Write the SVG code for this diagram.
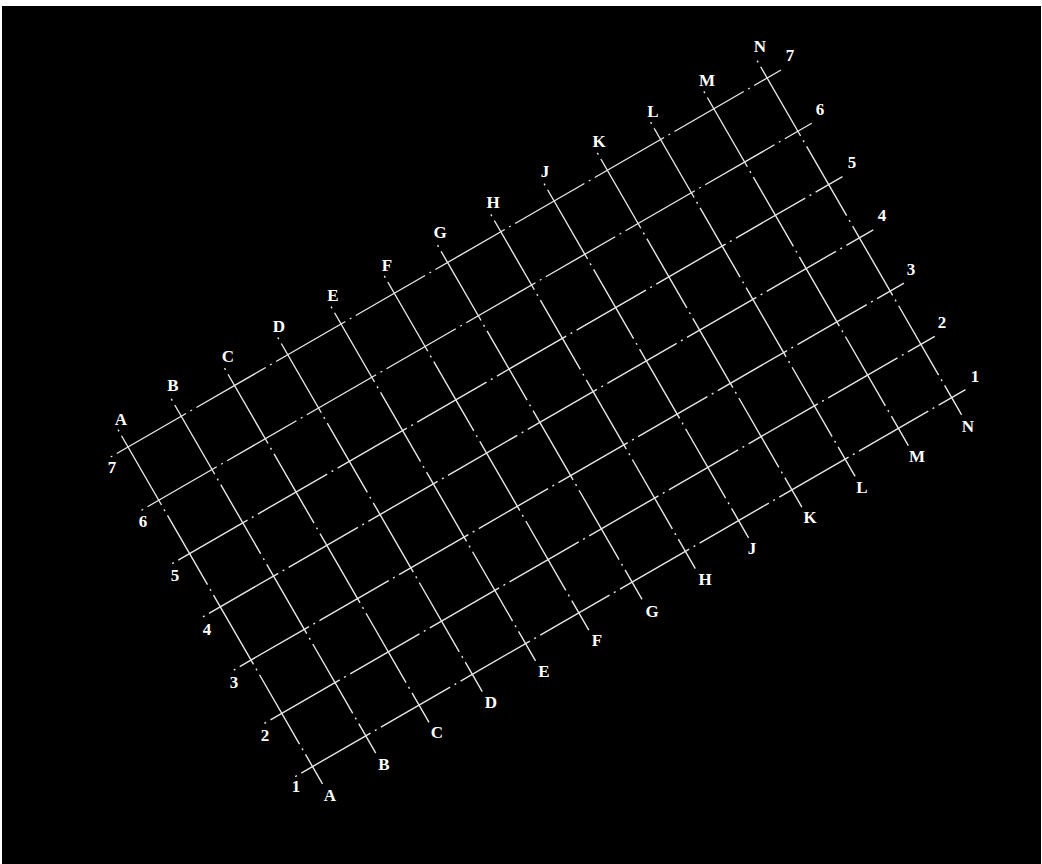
<svg xmlns="http://www.w3.org/2000/svg" width="1042" height="864" viewBox="0 0 1042 864">
<style>
.g{stroke:#e6e6e6;stroke-width:1.4;fill:none;stroke-dasharray:2 5 80 5}
.t{font-family:"Liberation Serif","Times New Roman",serif;font-weight:bold;font-size:17px;fill:#ffffff;text-anchor:middle}
</style>
<rect x="0" y="0" width="1042" height="864" fill="#ffffff"/>
<rect x="2" y="6" width="1039" height="858" fill="#000000"/>
<g id="connectors" transform="translate(128 447) rotate(-30)">
<g id="grid-letters">
<line class="g" x1="0" y1="-20" x2="0" y2="389"/>
<line class="g" x1="61.5" y1="-20" x2="61.5" y2="389"/>
<line class="g" x1="123" y1="-20" x2="123" y2="389"/>
<line class="g" x1="184.5" y1="-20" x2="184.5" y2="389"/>
<line class="g" x1="246" y1="-20" x2="246" y2="389"/>
<line class="g" x1="307.5" y1="-20" x2="307.5" y2="389"/>
<line class="g" x1="369" y1="-20" x2="369" y2="389"/>
<line class="g" x1="430.5" y1="-20" x2="430.5" y2="389"/>
<line class="g" x1="492" y1="-20" x2="492" y2="389"/>
<line class="g" x1="553.5" y1="-20" x2="553.5" y2="389"/>
<line class="g" x1="615" y1="-20" x2="615" y2="389"/>
<line class="g" x1="676.5" y1="-20" x2="676.5" y2="389"/>
<line class="g" x1="738" y1="-20" x2="738" y2="389"/>
</g>
<g id="grid-numbers">
<line class="g" x1="-20" y1="0" x2="754" y2="0"/>
<line class="g" x1="-20" y1="61.5" x2="754" y2="61.5"/>
<line class="g" x1="-20" y1="123" x2="754" y2="123"/>
<line class="g" x1="-20" y1="184.5" x2="754" y2="184.5"/>
<line class="g" x1="-20" y1="246" x2="754" y2="246"/>
<line class="g" x1="-20" y1="307.5" x2="754" y2="307.5"/>
<line class="g" x1="-20" y1="369" x2="754" y2="369"/>
</g>
</g>
<g id="labels-top">
<text class="t" x="121" y="425">A</text>
<text class="t" x="173" y="391">B</text>
<text class="t" x="228" y="362">C</text>
<text class="t" x="279" y="332">D</text>
<text class="t" x="333" y="301">E</text>
<text class="t" x="387" y="271">F</text>
<text class="t" x="440" y="238">G</text>
<text class="t" x="493" y="208">H</text>
<text class="t" x="545" y="177">J</text>
<text class="t" x="599" y="147">K</text>
<text class="t" x="653" y="117">L</text>
<text class="t" x="707" y="86">M</text>
<text class="t" x="760" y="52">N</text>
</g>
<g id="labels-bottom">
<text class="t" x="330" y="801">A</text>
<text class="t" x="384" y="770">B</text>
<text class="t" x="437" y="738">C</text>
<text class="t" x="491" y="708">D</text>
<text class="t" x="544" y="677">E</text>
<text class="t" x="597" y="646">F</text>
<text class="t" x="652" y="617">G</text>
<text class="t" x="705" y="585">H</text>
<text class="t" x="752" y="554">J</text>
<text class="t" x="810" y="523">K</text>
<text class="t" x="862" y="493">L</text>
<text class="t" x="917" y="462">M</text>
<text class="t" x="968" y="432">N</text>
</g>
<g id="labels-left">
<text class="t" x="112" y="473">7</text>
<text class="t" x="143" y="527">6</text>
<text class="t" x="175" y="581">5</text>
<text class="t" x="207" y="635">4</text>
<text class="t" x="234" y="688">3</text>
<text class="t" x="265" y="741">2</text>
<text class="t" x="296" y="792">1</text>
</g>
<g id="labels-right">
<text class="t" x="790" y="61">7</text>
<text class="t" x="820" y="115">6</text>
<text class="t" x="852" y="168">5</text>
<text class="t" x="882" y="221">4</text>
<text class="t" x="911" y="275">3</text>
<text class="t" x="942" y="328">2</text>
<text class="t" x="975" y="382">1</text>
</g>
</svg>
